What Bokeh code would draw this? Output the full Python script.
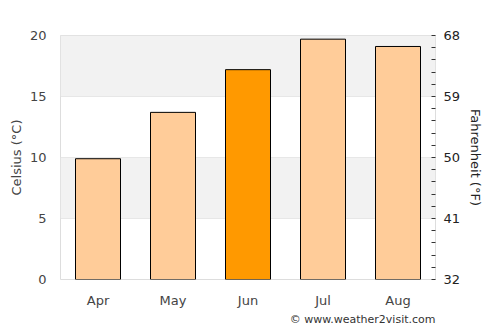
from bokeh.plotting import figure
from bokeh.models import (ColumnDataSource, Range1d, LinearAxis, FixedTicker,
                          BoxAnnotation, Title)
from bokeh.embed import file_html
from bokeh.resources import INLINE

months = ["Apr", "May", "Jun", "Jul", "Aug"]
celsius = [9.9, 13.7, 17.2, 19.7, 19.1]
colors = ["#ffcc99", "#ffcc99", "#ff9900", "#ffcc99", "#ffcc99"]
c_ticks = [0, 5, 10, 15, 20]
f_ticks = [32, 41, 50, 59, 68]
f_minor = [33.8, 35.6, 37.4, 39.2, 42.8, 44.6, 46.4, 48.2, 51.8, 53.6, 55.4, 57.2,
           60.8, 62.6, 64.4, 66.2]
bands = [(5, 10), (15, 20)]

src = ColumnDataSource(dict(m=months, c=celsius, col=colors))

p = figure(width=500, height=325, x_range=months, y_range=Range1d(0, 20),
           output_backend="svg", toolbar_location=None,
           min_border_left=60, min_border_right=65, min_border_top=35,
           min_border_bottom=45, background_fill_color="white")

for lo, hi in bands:
    p.add_layout(BoxAnnotation(bottom=lo, top=hi, fill_color="#f2f2f2",
                               fill_alpha=1, line_color=None, level="underlay"))

p.vbar(x="m", top="c", width=0.6, source=src, fill_color="col",
       line_color="black", line_width=1)

p.outline_line_color = "#dddddd"
p.xgrid.grid_line_color = None
p.ygrid.grid_line_color = "#dddddd"
p.ygrid.ticker = FixedTicker(ticks=c_ticks)

ya = p.yaxis[0]
ya.ticker = FixedTicker(ticks=c_ticks)
ya.axis_label = "Celsius (°C)"
ya.axis_line_color = None
ya.major_tick_line_color = None
ya.minor_tick_line_color = None
ya.major_label_text_font = "DejaVu Sans"
ya.major_label_text_font_size = "13px"
ya.major_label_text_color = "#444444"
ya.axis_label_text_font = "DejaVu Sans"
ya.axis_label_text_font_size = "13px"
ya.axis_label_text_font_style = "normal"
ya.axis_label_text_color = "#444444"
ya.major_label_standoff = 8
ya.axis_label_standoff = 3

xa = p.xaxis[0]
xa.axis_line_color = None
xa.major_tick_line_color = None
xa.major_label_text_font = "DejaVu Sans"
xa.major_label_text_font_size = "13px"
xa.major_label_text_color = "#444444"
xa.major_label_standoff = 7

p.extra_y_ranges = {"f": Range1d(32, 68)}
ra = LinearAxis(y_range_name="f", ticker=FixedTicker(ticks=f_ticks, minor_ticks=f_minor))
ra.axis_line_color = None
ra.major_tick_in = 4
ra.major_tick_out = 0
ra.minor_tick_in = 4
ra.minor_tick_out = 0
ra.major_tick_line_color = "#333333"
ra.minor_tick_line_color = "#333333"
ra.major_label_text_font = "DejaVu Sans"
ra.major_label_text_font_size = "13px"
ra.major_label_text_color = "#222222"
ra.major_label_standoff = 8
p.add_layout(ra, "right")

ftitle = Title(text="Fahrenheit (°F)", align="center",
               text_font="DejaVu Sans", text_font_size="13px",
               text_font_style="normal", text_color="#222222",
               standoff=8, offset=0)
p.add_layout(ftitle, "right")

credit = Title(text="© www.weather2visit.com", align="right",
               text_font="DejaVu Sans", text_font_size="11px",
               text_font_style="normal", text_color="#333333",
               standoff=0, offset=0)
p.add_layout(credit, "below")

open("out.html", "w").write(file_html(p, INLINE))
